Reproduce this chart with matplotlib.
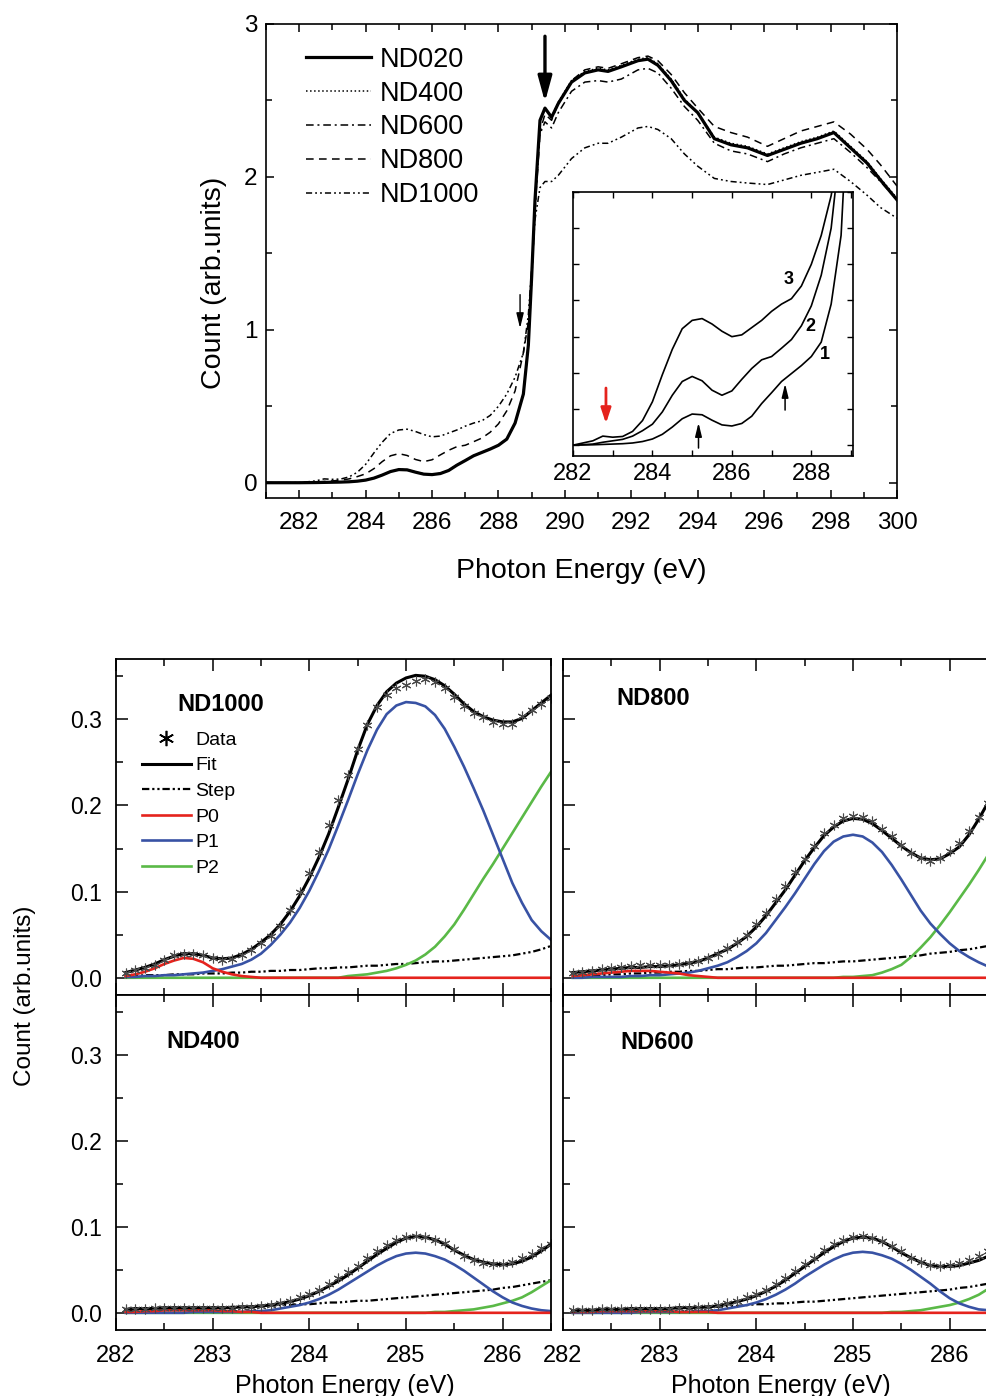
import matplotlib
matplotlib.use("Agg")
import matplotlib.pyplot as plt
from matplotlib.lines import Line2D
from matplotlib.ticker import MultipleLocator, FormatStrFormatter
import numpy as np

plt.rcParams["font.family"] = ["Liberation Sans", "DejaVu Sans"]

# ---------------- top panel: C K-edge spectra ----------------
energy = [281.0, 282.0, 282.5, 282.75, 283.0, 283.25, 283.5, 283.75, 284.0, 284.25,
          284.5, 284.75, 285.0, 285.25, 285.5, 285.75, 286.0, 286.25, 286.5, 286.75,
          287.0, 287.25, 287.5, 287.75, 288.0, 288.25, 288.5, 288.75, 288.9, 289.0,
          289.1, 289.25, 289.4, 289.6, 289.8, 290.2, 290.6, 291.0, 291.3, 291.7,
          292.2, 292.5, 292.8, 293.2, 293.6, 294.0, 294.5, 295.0, 295.5, 296.1,
          296.6, 297.1, 297.6, 298.1, 298.6, 299.1, 299.5, 300.0]

nd020 = [0.0, 0.0, 0.001, 0.002, 0.003, 0.004, 0.006, 0.010, 0.017, 0.030,
         0.050, 0.073, 0.086, 0.084, 0.069, 0.056, 0.053, 0.060, 0.080, 0.115,
         0.145, 0.176, 0.198, 0.220, 0.245, 0.285, 0.39, 0.58, 0.90, 1.35,
         1.85, 2.37, 2.45, 2.39, 2.48, 2.62, 2.68, 2.70, 2.69, 2.72,
         2.76, 2.77, 2.73, 2.63, 2.50, 2.42, 2.25, 2.21, 2.19, 2.14,
         2.18, 2.22, 2.25, 2.29, 2.19, 2.09, 1.98, 1.85]
nd400 = [0.0, 0.0, 0.002, 0.003, 0.004, 0.005, 0.007, 0.011, 0.018, 0.031,
         0.051, 0.074, 0.087, 0.085, 0.070, 0.057, 0.054, 0.061, 0.081, 0.116,
         0.146, 0.177, 0.199, 0.221, 0.246, 0.287, 0.39, 0.59, 0.91, 1.36,
         1.86, 2.37, 2.45, 2.39, 2.49, 2.63, 2.69, 2.71, 2.70, 2.73,
         2.77, 2.78, 2.74, 2.64, 2.51, 2.42, 2.26, 2.22, 2.20, 2.15,
         2.19, 2.23, 2.26, 2.30, 2.20, 2.10, 1.99, 1.86]
nd600 = [0.0, 0.0, 0.001, 0.002, 0.003, 0.004, 0.006, 0.010, 0.017, 0.030,
         0.050, 0.073, 0.086, 0.084, 0.070, 0.057, 0.054, 0.061, 0.081, 0.116,
         0.146, 0.177, 0.199, 0.221, 0.246, 0.287, 0.39, 0.58, 0.90, 1.32,
         1.78, 2.28, 2.36, 2.32, 2.42, 2.56, 2.62, 2.63, 2.62, 2.64,
         2.70, 2.71, 2.68, 2.58, 2.46, 2.37, 2.22, 2.17, 2.15, 2.10,
         2.15, 2.19, 2.22, 2.25, 2.16, 2.06, 1.97, 1.85]
nd800 = [0.0, 0.0, 0.003, 0.008, 0.012, 0.016, 0.025, 0.040, 0.058, 0.092,
         0.138, 0.176, 0.190, 0.178, 0.152, 0.138, 0.150, 0.182, 0.212, 0.236,
         0.245, 0.268, 0.292, 0.33, 0.385, 0.47, 0.60, 0.85, 1.05, 1.35,
         1.80, 2.30, 2.41, 2.37, 2.48, 2.63, 2.70, 2.72, 2.71, 2.74,
         2.78, 2.79, 2.76, 2.67, 2.55, 2.45, 2.33, 2.29, 2.26, 2.20,
         2.25, 2.30, 2.33, 2.36, 2.28, 2.18, 2.08, 1.94]
nd1000 = [0.0, 0.0, 0.012, 0.025, 0.022, 0.024, 0.038, 0.068, 0.12, 0.195,
          0.265, 0.322, 0.345, 0.350, 0.335, 0.315, 0.300, 0.305, 0.325, 0.345,
          0.37, 0.39, 0.405, 0.44, 0.50, 0.58, 0.69, 0.85, 1.10, 1.40,
          1.72, 1.93, 1.97, 1.97, 2.01, 2.12, 2.19, 2.22, 2.22, 2.26,
          2.32, 2.33, 2.31, 2.25, 2.15, 2.07, 1.99, 1.97, 1.96, 1.95,
          1.98, 2.01, 2.03, 2.05, 1.97, 1.88, 1.80, 1.73]

spectra = [
    ("ND020", nd020, dict(ls="-", lw=2.3, zorder=5)),
    ("ND400", nd400, dict(ls=":", lw=1.1)),
    ("ND600", nd600, dict(lw=1.1, dashes=(5, 2.5, 1.3, 2.5))),
    ("ND800", nd800, dict(lw=1.1, dashes=(5, 3.5))),
    ("ND1000", nd1000, dict(lw=1.1, dashes=(4, 2, 1.2, 2, 1.2, 2))),
]

# inset curves: 1 = ND020, 2 = ND800, 3 = ND1000
inset_curves = [("1", nd020), ("2", nd800), ("3", nd1000)]

# ---------------- bottom panels: peak fits ----------------
fit_e = np.linspace(282.1, 286.5, 45)

b1000_data = [0.006, 0.009, 0.011, 0.015, 0.021, 0.026, 0.028, 0.028, 0.026, 0.023,
              0.021, 0.022, 0.026, 0.032, 0.040, 0.048, 0.060, 0.079, 0.100, 0.122,
              0.146, 0.177, 0.206, 0.235, 0.266, 0.293, 0.314, 0.328, 0.336, 0.340,
              0.345, 0.347, 0.343, 0.336, 0.326, 0.316, 0.307, 0.303, 0.297, 0.295,
              0.295, 0.304, 0.311, 0.318, 0.325]
b1000_fit = [0.006, 0.009, 0.012, 0.016, 0.021, 0.025, 0.028, 0.028, 0.026, 0.023,
             0.022, 0.023, 0.027, 0.033, 0.041, 0.050, 0.062, 0.077, 0.095, 0.116,
             0.140, 0.167, 0.198, 0.230, 0.264, 0.294, 0.316, 0.332, 0.342, 0.348,
             0.351, 0.350, 0.346, 0.339, 0.329, 0.318, 0.309, 0.303, 0.299, 0.297,
             0.297, 0.301, 0.310, 0.319, 0.328]
b1000_step = [0.002, 0.002, 0.003, 0.003, 0.003, 0.004, 0.004, 0.004, 0.005, 0.005,
              0.005, 0.006, 0.006, 0.007, 0.007, 0.008, 0.008, 0.009, 0.009, 0.010,
              0.011, 0.011, 0.012, 0.012, 0.013, 0.014, 0.014, 0.015, 0.016, 0.016,
              0.017, 0.018, 0.019, 0.019, 0.020, 0.021, 0.022, 0.023, 0.024, 0.025,
              0.026, 0.028, 0.030, 0.033, 0.037]
b1000_p0 = [0.002, 0.004, 0.007, 0.011, 0.016, 0.020, 0.023, 0.022, 0.018, 0.011,
            0.007, 0.004, 0.002, 0.001] + [0.0] * 31
b1000_p1 = [0.001, 0.001, 0.002, 0.002, 0.003, 0.003, 0.004, 0.005, 0.006, 0.008,
            0.010, 0.013, 0.016, 0.021, 0.028, 0.038, 0.050, 0.064, 0.081, 0.101,
            0.124, 0.149, 0.177, 0.206, 0.236, 0.264, 0.288, 0.306, 0.316, 0.320,
            0.319, 0.315, 0.305, 0.289, 0.268, 0.245, 0.220, 0.194, 0.166, 0.138,
            0.110, 0.087, 0.067, 0.054, 0.044]
b1000_p2 = [0.0] * 23 + [0.002, 0.003, 0.004, 0.006, 0.008, 0.011, 0.015,
                         0.020, 0.027, 0.036, 0.048, 0.062, 0.079, 0.097, 0.115,
                         0.132, 0.150, 0.168, 0.186, 0.204, 0.222, 0.239]

b800_data = [0.006, 0.007, 0.008, 0.010, 0.011, 0.013, 0.014, 0.015, 0.015, 0.015,
             0.015, 0.016, 0.017, 0.019, 0.023, 0.028, 0.034, 0.042, 0.050, 0.062,
             0.075, 0.091, 0.107, 0.123, 0.138, 0.153, 0.168, 0.177, 0.185, 0.188,
             0.187, 0.182, 0.173, 0.164, 0.154, 0.145, 0.139, 0.136, 0.139, 0.147,
             0.157, 0.170, 0.187, 0.203, 0.222]
b800_fit = [0.006, 0.007, 0.008, 0.009, 0.010, 0.011, 0.012, 0.012, 0.013, 0.013,
            0.014, 0.015, 0.017, 0.019, 0.023, 0.028, 0.033, 0.040, 0.048, 0.059,
            0.072, 0.087, 0.102, 0.119, 0.136, 0.151, 0.165, 0.175, 0.182, 0.185,
            0.184, 0.179, 0.171, 0.162, 0.153, 0.145, 0.139, 0.137, 0.138, 0.144,
            0.152, 0.166, 0.184, 0.204, 0.224]
b800_step = [0.002, 0.002, 0.003, 0.003, 0.004, 0.004, 0.005, 0.005, 0.006, 0.006,
             0.007, 0.007, 0.008, 0.008, 0.009, 0.010, 0.010, 0.011, 0.012, 0.012,
             0.013, 0.014, 0.014, 0.015, 0.016, 0.017, 0.017, 0.018, 0.019, 0.019,
             0.020, 0.021, 0.022, 0.023, 0.024, 0.025, 0.026, 0.028, 0.029, 0.030,
             0.032, 0.033, 0.035, 0.037, 0.040]
b800_p0 = [0.002, 0.003, 0.004, 0.005, 0.006, 0.007, 0.008, 0.008, 0.008, 0.007,
           0.006, 0.005, 0.003, 0.002, 0.001] + [0.0] * 30
b800_p1 = [0.000, 0.000, 0.001, 0.001, 0.001, 0.001, 0.002, 0.002, 0.003, 0.003,
           0.004, 0.005, 0.006, 0.008, 0.011, 0.014, 0.018, 0.024, 0.031, 0.040,
           0.052, 0.067, 0.082, 0.098, 0.115, 0.132, 0.147, 0.158, 0.164, 0.166,
           0.164, 0.157, 0.146, 0.131, 0.114, 0.096, 0.078, 0.063, 0.051, 0.040,
           0.031, 0.024, 0.018, 0.013, 0.009]
b800_p2 = [0.0] * 28 + [0.001, 0.001, 0.002, 0.003, 0.006, 0.010, 0.015, 0.024,
                        0.035, 0.047, 0.061, 0.076, 0.092, 0.108, 0.125, 0.143, 0.160]

b400_data = [0.004, 0.005, 0.005, 0.006, 0.006, 0.006, 0.006, 0.006, 0.006, 0.006,
             0.006, 0.006, 0.007, 0.007, 0.008, 0.009, 0.011, 0.014, 0.018, 0.022,
             0.027, 0.033, 0.040, 0.047, 0.055, 0.064, 0.072, 0.079, 0.085, 0.088,
             0.089, 0.088, 0.085, 0.081, 0.074, 0.066, 0.061, 0.058, 0.057, 0.057,
             0.059, 0.064, 0.069, 0.075, 0.080]
b400_fit = [0.004, 0.005, 0.005, 0.005, 0.006, 0.006, 0.006, 0.006, 0.006, 0.006,
            0.006, 0.006, 0.007, 0.007, 0.008, 0.009, 0.011, 0.013, 0.016, 0.020,
            0.025, 0.031, 0.037, 0.044, 0.052, 0.060, 0.068, 0.075, 0.082, 0.087,
            0.089, 0.088, 0.085, 0.080, 0.073, 0.067, 0.062, 0.059, 0.057, 0.056,
            0.057, 0.060, 0.065, 0.072, 0.080]
b400_step = [0.002, 0.002, 0.003, 0.003, 0.004, 0.004, 0.005, 0.005, 0.005, 0.006,
             0.006, 0.007, 0.007, 0.007, 0.008, 0.008, 0.009, 0.009, 0.010, 0.010,
             0.011, 0.012, 0.012, 0.013, 0.014, 0.014, 0.015, 0.016, 0.017, 0.018,
             0.019, 0.020, 0.021, 0.022, 0.023, 0.024, 0.025, 0.026, 0.027, 0.029,
             0.030, 0.032, 0.034, 0.036, 0.038]
b400_p0 = [0.001, 0.001, 0.002, 0.002, 0.003, 0.003, 0.003, 0.003, 0.003, 0.003,
           0.002, 0.002, 0.001, 0.001] + [0.0] * 31
b400_p1 = [0.0, 0.0, 0.0, 0.0, 0.0, 0.0, 0.0, 0.001, 0.001, 0.001,
           0.001, 0.001, 0.001, 0.002, 0.002, 0.003, 0.005, 0.007, 0.009, 0.012,
           0.016, 0.021, 0.027, 0.034, 0.041, 0.048, 0.055, 0.061, 0.066, 0.069,
           0.070, 0.069, 0.066, 0.062, 0.056, 0.049, 0.041, 0.033, 0.025, 0.018,
           0.012, 0.008, 0.005, 0.003, 0.002]
b400_p2 = [0.0] * 32 + [0.001, 0.001, 0.002, 0.003, 0.004, 0.006, 0.008, 0.011,
                        0.014, 0.018, 0.024, 0.031, 0.038]

b600_data = [0.003, 0.003, 0.003, 0.004, 0.004, 0.004, 0.005, 0.005, 0.005, 0.005,
             0.005, 0.006, 0.006, 0.007, 0.007, 0.009, 0.011, 0.014, 0.018, 0.022,
             0.027, 0.033, 0.041, 0.049, 0.057, 0.064, 0.073, 0.080, 0.085, 0.088,
             0.089, 0.087, 0.084, 0.078, 0.072, 0.064, 0.059, 0.056, 0.055, 0.056,
             0.058, 0.062, 0.066, 0.072, 0.079]
b600_fit = [0.002, 0.003, 0.003, 0.004, 0.004, 0.004, 0.005, 0.005, 0.005, 0.005,
            0.005, 0.006, 0.006, 0.006, 0.007, 0.008, 0.010, 0.013, 0.016, 0.020,
            0.025, 0.031, 0.038, 0.046, 0.054, 0.062, 0.070, 0.077, 0.083, 0.087,
            0.088, 0.087, 0.083, 0.077, 0.070, 0.064, 0.059, 0.055, 0.054, 0.054,
            0.055, 0.058, 0.061, 0.066, 0.072]
b600_step = [0.002, 0.002, 0.002, 0.003, 0.003, 0.003, 0.004, 0.004, 0.005, 0.005,
             0.005, 0.006, 0.006, 0.006, 0.007, 0.007, 0.008, 0.008, 0.009, 0.010,
             0.010, 0.011, 0.011, 0.012, 0.013, 0.013, 0.014, 0.015, 0.016, 0.017,
             0.018, 0.019, 0.020, 0.021, 0.022, 0.023, 0.024, 0.025, 0.026, 0.027,
             0.029, 0.030, 0.032, 0.034, 0.036]
b600_p0 = [0.001, 0.001, 0.001, 0.002, 0.002, 0.002, 0.002, 0.002, 0.002, 0.002,
           0.002, 0.001, 0.001, 0.001, 0.001] + [0.0] * 30
b600_p1 = [0.0, 0.0, 0.0, 0.0, 0.0, 0.0, 0.0, 0.001, 0.001, 0.001,
           0.001, 0.001, 0.001, 0.002, 0.002, 0.003, 0.005, 0.007, 0.009, 0.012,
           0.016, 0.021, 0.027, 0.034, 0.042, 0.049, 0.056, 0.062, 0.067, 0.070,
           0.071, 0.070, 0.067, 0.063, 0.057, 0.050, 0.042, 0.034, 0.025, 0.017,
           0.011, 0.007, 0.004, 0.003, 0.002]
b600_p2 = [0.0] * 33 + [0.001, 0.001, 0.002, 0.003, 0.005, 0.007, 0.009, 0.012,
                        0.016, 0.021, 0.028, 0.035]

panels = [
    ("ND1000", b1000_data, b1000_fit, b1000_step, b1000_p0, b1000_p1, b1000_p2),
    ("ND800", b800_data, b800_fit, b800_step, b800_p0, b800_p1, b800_p2),
    ("ND400", b400_data, b400_fit, b400_step, b400_p0, b400_p1, b400_p2),
    ("ND600", b600_data, b600_fit, b600_step, b600_p0, b600_p1, b600_p2),
]

RED, BLUE, GREEN = "#e5231d", "#3852a4", "#5ab947"
STEP_DASH = (3.3, 1.3, 1.0, 1.3, 1.0, 1.3)
ASTER = (6, 2, 0)

W, H = 987, 1396
fig = plt.figure(figsize=(W / 100, H / 100), dpi=100)


def frac(x0, y0, x1, y1):
    return [x0 / W, 1 - y1 / H, (x1 - x0) / W, (y1 - y0) / H]


# ---- main spectra ----
ax = fig.add_axes(frac(266, 24, 897, 498))
for name, vals, style in spectra:
    ax.plot(energy, vals, color="k", label=name, **style)
ax.set_xlim(281, 300)
ax.set_ylim(-0.1, 3.0)
ax.xaxis.set_major_locator(MultipleLocator(2))
ax.xaxis.set_minor_locator(MultipleLocator(1))
ax.yaxis.set_major_locator(MultipleLocator(1))
ax.yaxis.set_minor_locator(MultipleLocator(0.5))
ax.tick_params(which="both", direction="in", top=True, right=True, width=1.1)
ax.tick_params(which="major", length=6, labelsize=17.5)
ax.tick_params(which="minor", length=4.5)
ax.tick_params(axis="x", pad=10)
ax.tick_params(axis="y", pad=6)
for s in ax.spines.values():
    s.set_linewidth(1.2)
ax.set_xlabel("Photon Energy (eV)", fontsize=20.5, labelpad=17)
ax.set_ylabel("Count (arb.units)", fontsize=20.5, labelpad=12)
ax.yaxis.label.set_y(0.454)
ax.legend(loc="upper left", bbox_to_anchor=(0.064, 0.952), frameon=False,
          fontsize=19.5, handlelength=2.4, handletextpad=0.3, labelspacing=0.29,
          borderaxespad=0, borderpad=0)
ax.annotate("", xy=(289.4, 2.49), xytext=(289.4, 2.92),
            arrowprops=dict(arrowstyle="-|>,head_length=1.1,head_width=0.3",
                            mutation_scale=14, lw=2.4, color="k",
                            shrinkA=0, shrinkB=0))
ax.annotate("", xy=(288.65, 1.01), xytext=(288.65, 1.23),
            arrowprops=dict(arrowstyle="-|>,head_length=0.9,head_width=0.22",
                            mutation_scale=10, lw=1.0, color="k",
                            shrinkA=0, shrinkB=0))

# ---- inset ----
axi = fig.add_axes(frac(573, 192, 853, 456))
for label, vals in inset_curves:
    axi.plot(energy, vals, color="k", lw=1.2)
axi.set_xlim(282, 289.05)
axi.set_ylim(-0.03, 0.7)
axi.xaxis.set_major_locator(MultipleLocator(2))
axi.xaxis.set_minor_locator(MultipleLocator(1))
axi.yaxis.set_major_locator(MultipleLocator(0.1))
axi.tick_params(which="both", direction="in", top=True, right=True,
                length=4.5, width=1.0)
axi.tick_params(axis="x", labelsize=17, pad=5)
axi.tick_params(axis="y", labelleft=False)
for s in axi.spines.values():
    s.set_linewidth(1.2)
axi.text(287.42, 0.458, "3", fontsize=13, fontweight="bold", ha="center", va="center")
axi.text(287.98, 0.328, "2", fontsize=13, fontweight="bold", ha="center", va="center")
axi.text(288.33, 0.25, "1", fontsize=13, fontweight="bold", ha="center", va="center")
axi.annotate("", xy=(282.83, 0.06), xytext=(282.83, 0.158),
             arrowprops=dict(arrowstyle="-|>,head_length=0.9,head_width=0.3",
                             mutation_scale=10, lw=2.0, color=RED,
                             shrinkA=0, shrinkB=0))
axi.annotate("", xy=(285.16, 0.062), xytext=(285.16, -0.008),
             arrowprops=dict(arrowstyle="-|>,head_length=0.9,head_width=0.22",
                             mutation_scale=9, lw=1.1, color="k",
                             shrinkA=0, shrinkB=0))
axi.annotate("", xy=(287.34, 0.17), xytext=(287.34, 0.097),
             arrowprops=dict(arrowstyle="-|>,head_length=0.9,head_width=0.22",
                             mutation_scale=9, lw=1.1, color="k",
                             shrinkA=0, shrinkB=0))

# ---- fit panels ----
boxes = [(116, 659, 551, 995), (563, 659, 998, 995),
         (116, 995, 551, 1330), (563, 995, 998, 1330)]
title_pos = [(0.14, 0.866), (0.122, 0.881), (0.115, 0.86), (0.133, 0.857)]

for i, (name, data, fit, step, p0, p1, p2) in enumerate(panels):
    axb = fig.add_axes(frac(*boxes[i]))
    axb.plot(fit_e, step, color="k", lw=1.6, dashes=STEP_DASH)
    axb.plot(fit_e, p2, color=GREEN, lw=1.9)
    axb.plot(fit_e, p1, color=BLUE, lw=1.9)
    axb.plot(fit_e, p0, color=RED, lw=1.9)
    axb.plot(fit_e, fit, color="k", lw=2.2)
    axb.plot(fit_e, data, ls="none", marker=ASTER, ms=7, mew=0.8,
             color="#4a4a4a")
    axb.set_xlim(282, 286.5)
    axb.set_ylim(-0.02, 0.37)
    axb.xaxis.set_major_locator(MultipleLocator(1))
    axb.xaxis.set_minor_locator(MultipleLocator(0.5))
    axb.yaxis.set_major_locator(MultipleLocator(0.1))
    axb.yaxis.set_minor_locator(MultipleLocator(0.05))
    axb.yaxis.set_major_formatter(FormatStrFormatter("%.1f"))
    axb.tick_params(which="both", direction="in", top=True, bottom=True,
                    left=True, right=False, width=1.1)
    axb.tick_params(which="major", length=8.5)
    axb.tick_params(which="minor", length=5)
    axb.tick_params(axis="x", labelsize=17, pad=11, labelbottom=(i >= 2))
    axb.tick_params(axis="y", labelsize=16.5, pad=10, labelleft=(i % 2 == 0))
    for s in axb.spines.values():
        s.set_linewidth(1.3)
    axb.text(title_pos[i][0], title_pos[i][1], name, transform=axb.transAxes,
             fontsize=17, fontweight="bold", ha="left", va="center")
    if i >= 2:
        axb.set_xlabel("Photon Energy (eV)", fontsize=18, labelpad=5)
        if i == 2:
            axb.xaxis.label.set_x(0.526)
    if i == 0:
        handles = [
            Line2D([], [], ls="none", marker=ASTER, ms=11, mew=1.2, color="k"),
            Line2D([], [], color="k", lw=2.2),
            Line2D([], [], color="k", lw=1.6, dashes=STEP_DASH),
            Line2D([], [], color=RED, lw=1.9),
            Line2D([], [], color=BLUE, lw=1.9),
            Line2D([], [], color=GREEN, lw=1.9),
        ]
        axb.legend(handles, ["Data", "Fit", "Step", "P0", "P1", "P2"],
                   loc="upper left", bbox_to_anchor=(0.06, 0.785), frameon=False,
                   fontsize=14, handlelength=2.5, handletextpad=0.25,
                   labelspacing=0.41, borderaxespad=0, borderpad=0)

fig.text(25 / W, 1 - 996 / H, "Count (arb.units)", rotation=90, fontsize=17.5,
         ha="center", va="center")

fig.savefig("out.png", dpi=100)
